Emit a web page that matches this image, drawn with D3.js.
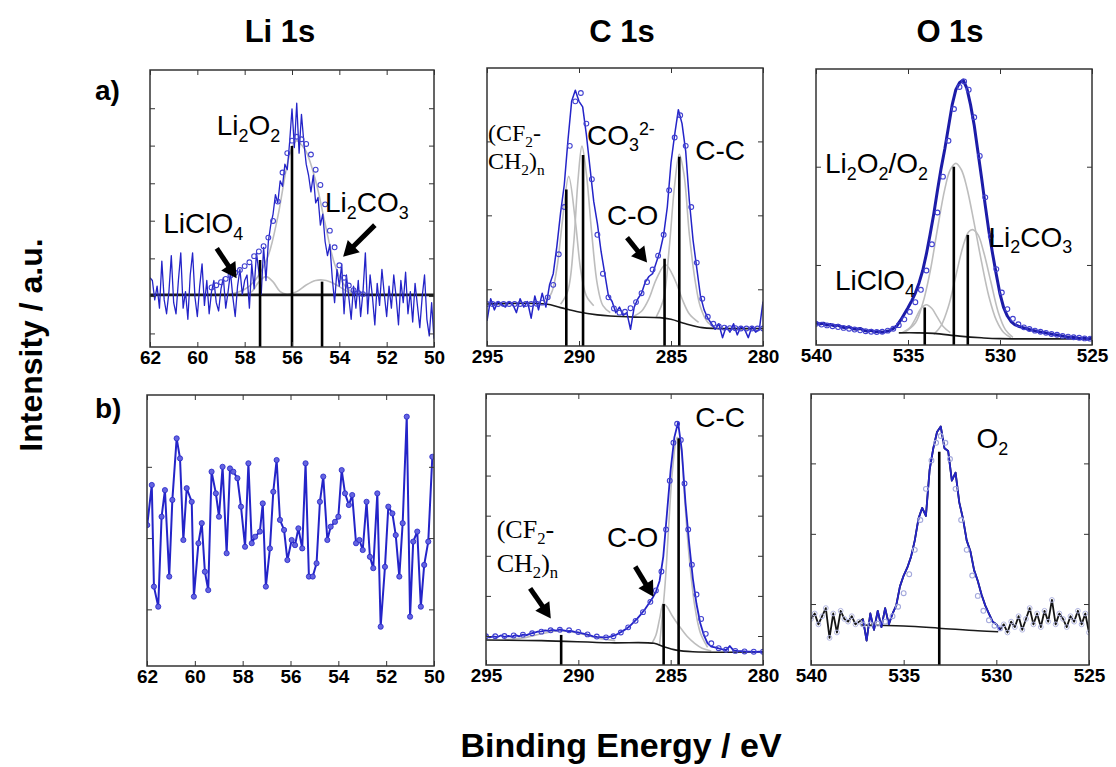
<!DOCTYPE html>
<html>
<head>
<meta charset="utf-8">
<script src="https://cdn.jsdelivr.net/npm/d3@7"></script>
<style>
  body { margin: 0; background: #fff; }
  svg { display: block; }
</style>
</head>
<body>
<div id="chart"></div>
<script>
// column titles, row labels and axis titles
const columnTitles = ['Li 1s', 'C 1s', 'O 1s'];
const rowLabels = ['a)', 'b)'];
const yAxisTitle = 'Intensity / a.u.';
const xAxisTitle = 'Binding Energy / eV';

// binding energy tick labels (eV)
const liTicks = [62, 60, 58, 56, 54, 52, 50];
const cTicks = [295, 290, 285, 280];
const oTicks = [540, 535, 530, 525];

// intensity ticks (arbitrary units, 0 = bottom of frame, 100 = top)
const liAYTicks = [4.9, 18.4, 32.0, 45.6, 59.1, 72.7, 86.2];
const cAYTicks = [20.4, 47.0, 73.6];
const oAYTicks = [29.0, 64.6];
const liBYTicks = [20.9, 47.2, 73.5];
const cBYTicks = [10.7, 25.5, 40.3, 55.1, 69.9, 84.7];
const oBYTicks = [22.5, 48.4, 74.4];

// ---------- a) Li 1s ----------
// raw counts, 62.0 -> 50.0 eV every 0.1 eV
const liARaw = [25,24,17,22,14,31,17,12,20,33, 16,12,24,34,14,20,10,26,34,18,
  11,22,30,15,24,12,20,24,16,13, 21,25,14,20,27,18,11,22,28,19,
  24,26,14,30,21,34,27,19,36,24, 38,44,48,55,52,60,58,66,64,74,
  86,72,88,70,84,74,66,62,56,62, 52,54,44,48,38,33,37,25,16,28,
  22,30,12,26,18,10,22,14,24,11, 20,34,12,26,18,8,23,15,28,19,
  11,22,14,26,18,8,24,16,27,12, 20,9,23,15,7,18,26,10,4,16, 3];
const liAFit = [[59.4,21.5],[59.2,22.3],[59.0,23.4],[58.8,24.6],[58.6,25.8],[58.4,26.8],[58.2,27.8],
  [58.0,29.2],[57.8,30.6],[57.6,32.8],[57.4,34.5],[57.2,36.4],[57.0,39.5],[56.8,45.5],[56.6,52.5],
  [56.4,63],[56.2,70],[56.0,74.5],[55.8,75.9],[55.6,75],[55.4,73.3],[55.2,69.5],[55.0,64],[54.8,58.5],
  [54.6,51.5],[54.4,42],[54.2,36],[54.0,29.5],[53.8,25],[53.6,22.2],[53.4,20.5],[53.2,19.5],[53.0,19.1]];
const liALi2O2 = [[58.6,19],[58.2,20],[57.8,22],[57.4,26],[57.0,33],[56.6,47],[56.2,66],[56.0,72],[55.8,74.5],
  [55.6,73],[55.4,70.5],[55.0,60],[54.6,44.5],[54.2,30],[53.8,22.5],[53.4,19.5],[53.0,18.9]];
const liALiClO4 = [[58.0,18.9],[57.7,20],[57.4,23.5],[57.1,25.4],[56.8,23.5],[56.5,20],[56.2,18.9]];
const liALi2CO3 = [[56.2,18.9],[55.8,20],[55.4,22.4],[55.0,24],[54.7,24.2],[54.4,23.6],[54.0,21.8],[53.6,19.8],[53.2,18.9]];
const liABaseline = [[62,18.8],[50,18.8]];
const liAPeaks = [[57.35,31.4],[56.0,72.6],[54.73,23.6]];

// ---------- a) C 1s ----------
// raw counts, 295.0 -> 280.0 eV every 0.2 eV
const cARaw = [9,17,13,16,15,14,16,15,12,17, 14,16,10,18,13,19,14,22,26,36,
  48,58,74,88,92,88,86,76,64,52, 44,34,26,18,16,12,14,11,12,6,
  14,17,19,23,25,26,30,34,40,50, 66,76,85,80,70,52,38,28,18,13,
  10,8,6,8,3,7,5,8,4,7, 6,3,7,5,6,16];
const cAFit = [[295.0,15.1],[294.7,15.1],[294.4,15.1],[294.1,15.1],[293.8,15.1],[293.5,15.1],[293.2,15.1],
  [292.9,15.1],[292.6,15.1],[292.3,15.2],[292.0,15.6],[291.7,17.5],[291.4,22],[291.1,33],[290.8,50],
  [290.5,72],[290.2,88],[289.9,91],[289.6,80],[289.3,60],[289.0,40],[288.7,26],[288.4,17.5],[288.1,13.5],
  [287.8,12.0],[287.5,12.3],[287.2,13.6],[286.9,15.8],[286.6,19],[286.3,23],[286.0,27.5],[285.7,32.5],
  [285.4,40],[285.1,56],[284.8,75],[284.5,83],[284.2,72],[283.9,50],[283.6,30],[283.3,17],[283.0,10.5],
  [282.7,8],[282.4,7],[282.1,6.6],[281.8,6.4],[281.5,6.4],[281.2,6.3],[280.9,6.3],[280.6,6.3],[280.3,6.3],[280.0,6.3]];
const cACF2 = [[291.9,15.3],[291.5,19],[291.2,28],[290.9,45],[290.56,61],[290.2,45],[289.9,27],[289.6,18],[289.2,14.5]];
const cACO3 = [[291.0,15],[290.6,20],[290.3,36],[290.05,60],[289.84,71.9],[289.6,62],[289.3,40],[289.0,22],[288.7,14.5],[288.3,12]];
const cACO = [[287.0,10.8],[286.6,12.5],[286.2,17],[285.8,24],[285.3,29.2],[284.8,24],[284.4,17],[284.0,11.5],[283.5,8.5]];
const cACC = [[285.8,10.5],[285.4,17],[285.1,35],[284.8,58],[284.55,69],[284.3,62],[284.0,40],[283.7,24],[283.4,14],[283.0,8.5],[282.6,6.8]];
const cABaseline = [[295,15.1],[291.8,15.1],[291.0,13.8],[290.0,12.2],[289.0,11.2],[288.3,10.8],[287.0,10.4],
  [285.6,10.2],[285.0,9.6],[284.2,8.0],[283.3,6.6],[282.6,6.3],[280,6.3]];
const cAPeaks = [[290.69,56.3],[289.78,68.7],[285.35,31.4],[284.55,68.1]];

// ---------- a) O 1s ----------
// raw counts, 540.0 -> 525.0 eV every 0.2 eV
const oARaw = [8.0,7.6,7.9,7.2,7.4,6.9,7.2,6.5,6.2,6.6, 5.9,5.7,6.0,5.3,5.0,5.3,4.7,4.9,4.6,4.9,
  5.2,6.0,7.0,9.0,11.2,13.5,16.0,18.8,22.5,27.0, 33.0,40.0,47.5,56.0,64.0,71.0,79.0,87.0,92.5,95.0,
  96.0,93.0,87.0,79.5,70.0,60.5,50.5,41.0,33.0,25.5, 18.5,13.5,10.5,8.5,7.4,6.8,6.4,6.0,5.6,5.3,
  5.0,4.7,4.5,4.2,4.0,3.7,3.5,3.3,3.0,2.8, 2.7,2.5,2.3,2.5,2.1,2.6];
const oAFit = [[540,7.7],[539.7,7.4],[539.4,7.1],[539.1,6.8],[538.8,6.5],[538.5,6.2],[538.2,5.9],[537.9,5.6],
  [537.6,5.3],[537.3,5.0],[537.0,4.8],[536.7,4.7],[536.4,4.8],[536.1,5.2],[535.8,5.9],[535.5,7.2],[535.2,9.3],
  [534.9,12.0],[534.6,15.5],[534.3,20.0],[534.0,27.0],[533.7,36.5],[533.4,48.0],[533.1,61.0],[532.8,74.0],
  [532.5,85.5],[532.2,93.5],[531.95,95.5],[531.7,92.5],[531.4,82.5],[531.1,68.5],[530.8,53.5],[530.5,39.5],
  [530.2,27.5],[529.9,19.0],[529.6,13.0],[529.3,9.5],[529.0,7.5],[528.7,6.4],[528.4,5.8],[528.1,5.2],
  [527.8,4.8],[527.5,4.4],[527.2,4.0],[526.9,3.7],[526.6,3.3],[526.3,3.0],[526.0,2.8],[525.7,2.6],[525.4,2.4],[525.1,2.3]];
const oALiClO4 = [[535.3,4.5],[534.9,6.2],[534.6,9.5],[534.3,13.2],[534.0,14.6],[533.7,13.2],[533.4,10.0],[533.1,6.8],[532.7,4.5]];
const oALi2O2 = [[535.2,4.6],[534.6,8],[534.2,15],[533.8,26.5],[533.4,42],[533.0,56.5],[532.7,63.5],[532.4,65.8],
  [532.1,63.5],[531.8,57],[531.4,44],[531.0,30],[530.6,17.5],[530.2,9],[529.8,4.5],[529.4,2.6]];
const oALi2CO3 = [[533.6,3.8],[533.2,7],[532.8,14],[532.4,25],[532.0,36],[531.7,41],[531.5,41.8],[531.2,40],
  [530.9,34],[530.5,23],[530.1,12],[529.7,5.5],[529.3,2.8]];
const oABaseline = [[535.5,4.4],[534.5,4.4],[533.6,4.2],[532.2,3.2],[531.0,2.6],[530.0,2.3],[525,2.3]];
const oAPeaks = [[534.09,13.6],[532.51,64.6],[531.75,39.9]];

// ---------- b) Li 1s ----------
const liBEnergy = [61.99,61.80,61.71,61.53,61.39,61.25,61.07,60.94,60.76,60.62,
  60.48,60.34,60.13,60.04,59.85,59.71,59.58,59.44,59.30,59.12,
  58.99,58.84,58.67,58.53,58.39,58.22,58.07,57.90,57.76,57.62,
  57.48,57.28,57.16,57.03,56.86,56.72,56.58,56.44,56.27,56.13,
  55.95,55.81,55.67,55.51,55.37,55.23,55.07,54.91,54.77,54.63,
  54.46,54.32,54.14,54.00,53.86,53.72,53.56,53.42,53.26,53.12,
  52.98,52.82,52.68,52.54,52.37,52.23,52.05,51.91,51.74,51.60,
  51.45,51.31,51.14,51.00,50.87,50.70,50.55,50.41,50.24,50.07];
const liBIntensity = [52.0,66.8,29.3,21.9,55.1,64.9,33.0,61.3,84.0,76.6,
  46.5,65.6,60.6,25.6,45.3,52.7,34.8,28.0,71.7,63.7,
  55.1,73.5,41.6,72.9,71.7,69.3,58.8,44.0,74.8,45.3,
  47.7,49.6,60.0,29.3,43.4,64.3,76.0,53.9,50.2,39.1,
  46.5,44.6,50.8,43.4,74.8,33.0,33.0,37.9,60.6,69.9,
  46.5,51.4,53.2,55.1,72.3,63.7,59.4,63.1,45.3,46.5,
  42.8,60.6,40.3,36.1,63.7,14.5,36.6,58.8,56.3,48.3,
  33.0,52.7,92.0,18.2,45.9,49.6,21.9,37.3,45.9,77.2];

// ---------- b) C 1s ----------
// raw counts, 295.0 -> 280.0 eV every 0.2 eV
const cBRaw = [10.8,10.2,10.6,10.3,10.9,10.4,10.7,10.5,11.0,10.6, 11.2,11.0,11.6,11.9,12.3,12.4,12.8,12.6,13.0,12.7,
  13.1,12.8,12.5,12.6,12.2,12.0,11.7,11.4,11.0,10.6, 10.4,10.3,10.2,10.3,10.6,11.0,11.7,12.5,13.4,14.4,
  15.8,17.2,18.8,20.5,22.5,24.5,27,31,40,56, 72,84,89.5,79.5,60,45,32,22.5,15.5,11,
  8,6.8,6.5,6.1,5.8,5.5,7.0,5.4,5.2,5.1, 5.0,4.9,4.9,4.8,4.9,4.8];
const cBFit = [[295,10.6],[294.5,10.6],[294,10.7],[293.5,10.9],[293,11.2],[292.5,11.7],[292,12.3],[291.5,12.8],
  [291,13.0],[290.5,12.8],[290,12.2],[289.5,11.3],[289,10.5],[288.5,10.2],[288.1,10.6],[287.7,12.0],[287.3,13.9],
  [286.9,16.3],[286.5,19.5],[286.1,23.3],[285.8,27.5],[285.5,34.5],[285.25,50],[285.05,68],[284.85,82],
  [284.65,89],[284.45,83],[284.25,67],[284.05,50],[283.85,37],[283.6,26],[283.35,17],[283.1,11.5],
  [282.8,8.0],[282.4,6.2],[282.0,5.6],[281.5,5.2],[281.0,5.0],[280.5,4.9],[280.0,4.9]];
const cBCF2 = [[294,9.3],[293,10],[292,11.5],[291,12.7],[290,11.8],[289,10],[288,9.0]];
const cBCO = [[286.0,8.2],[285.8,11],[285.6,17],[285.4,22.6],[285.2,21.5],[284.9,18],[284.5,14],[284.1,10.5],
  [283.7,8],[283.3,6.2],[282.8,5.2]];
const cBCC = [[285.6,7.5],[285.3,30],[285.1,52],[284.9,72],[284.65,84],[284.45,80],[284.25,62],[284.0,40],
  [283.7,22],[283.4,12],[283.0,6.5]];
const cBBaseline = [[295,9.2],[292,9.0],[288.3,8.2],[285.9,8.0],[285.4,6.8],[284.7,5.5],[283.8,4.9],[280,4.9]];
const cBPeaks = [[290.93,11.1],[285.38,22.5],[284.57,83.6]];

// ---------- b) O 1s ----------
// raw counts, 540.0 -> 525.0 eV every 0.2 eV
const oBRaw = [17,19,15,18,21,10,19,12,20,17, 16,18,15,16,17,9,19,13,20,14,
  21,15,19,22,29,33,36,40,46,54, 58,55,72,80,86,88,80,79,68,71,
  60,54,46,42,35,31,26,22,19,16, 15,13,15,12,16,14,18,13,17,21,
  15,19,14,20,16,24,15,19,17,14, 18,16,20,15,19,12];
const oBFit = [[537.2,15.0],[536.8,15.0],[536.4,15.3],[536.0,16.0],[535.6,18.0],[535.3,21.5],[535.0,26.5],
  [534.7,33.5],[534.4,42.5],[534.1,53.5],[533.8,65],[533.5,75.5],[533.25,82],[533.0,84.5],[532.75,82],
  [532.5,76],[532.2,65],[531.9,53.5],[531.6,42.5],[531.3,33],[531.0,25.5],[530.7,20],[530.4,16.5],[530.1,14.5],[529.8,13.5]];
const oBBaseline = [[537.3,14.8],[535.0,14.4],[533.1,13.6],[531.0,12.6],[529.9,12.3]];
const oBPeaks = [[533.08,78.7]];

// ---------------------------------------------------------------
const width = 1116, height = 767;
const SANS = '"Liberation Sans", Arial, sans-serif';
const SERIF = '"Liberation Serif", "Times New Roman", serif';
const BLUE = '#2424c8';

const svg = d3.select('#chart').append('svg')
  .attr('width', width).attr('height', height)
  .style('background', '#fff');

// spectra sampled on a regular energy grid
const grid = (start, step, values) => values.map((v, i) => [start - i * step, v]);

const panels = [
  { id: 'la', left: 150, right: 434, top: 70, bottom: 347, xDomain: [62, 50], xTicks: liTicks, yTicks: liAYTicks,
    raw: grid(62, 0.1, liARaw), rawWidth: 1.3, fit: liAFit, comps: [liALi2O2, liALiClO4, liALi2CO3],
    baseline: liABaseline, baseWidth: 2.6, peaks: liAPeaks,
    labels: [
      { t: 'Li_{2}O_{2}', e: 59.18, v: 76.5 },
      { t: 'LiClO_{4}', e: 61.44, v: 41.0 },
      { t: 'Li_{2}CO_{3}', e: 54.61, v: 48.8 }
    ],
    arrows: [[59.18, 35.6, 58.34, 24.8], [52.5, 44.0, 53.84, 32.6]] },
  { id: 'ca', left: 487, right: 763, top: 68, bottom: 346, xDomain: [295, 280], xTicks: cTicks, yTicks: cAYTicks,
    raw: grid(295, 0.2, cARaw), rawWidth: 1.5, fit: cAFit, comps: [cACF2, cACO3, cACO, cACC],
    baseline: cABaseline, baseWidth: 1.6, peaks: cAPeaks,
    labels: [
      { t: '(CF_{2}-', e: 294.95, v: 73.7, serif: true, size: 24 },
      { t: 'CH_{2})_{n}', e: 294.95, v: 63.6, serif: true, size: 24 },
      { t: 'CO_{3}^{2-}', e: 289.57, v: 72.4 },
      { t: 'C-C', e: 283.68, v: 67.0 },
      { t: 'C-O', e: 288.48, v: 43.7 }
    ],
    arrows: [[287.39, 39.0, 286.3, 30.0]] },
  { id: 'oa', left: 816, right: 1092, top: 69, bottom: 345, xDomain: [540, 525], xTicks: oTicks, yTicks: oAYTicks,
    raw: grid(540, 0.2, oARaw), rawWidth: 3, rawColor: '#1c1ca8', fit: oAFit, comps: [oALiClO4, oALi2O2, oALi2CO3],
    baseline: oABaseline, baseWidth: 1.6, peaks: oAPeaks,
    labels: [
      { t: 'Li_{2}O_{2}/O_{2}', e: 539.51, v: 62.2 },
      { t: 'Li_{2}CO_{3}', e: 530.63, v: 35.6 },
      { t: 'LiClO_{4}', e: 538.97, v: 19.9 }
    ],
    arrows: [] },
  { id: 'lb', left: 147, right: 434, top: 395, bottom: 666, xDomain: [62, 50], xTicks: liTicks, yTicks: liBYTicks,
    raw: liBEnergy.map((e, i) => [e, liBIntensity[i]]), rawWidth: 2, markers: true,
    comps: [], peaks: [], labels: [], arrows: [] },
  { id: 'cb', left: 486, right: 763, top: 394, bottom: 665, xDomain: [295, 280], xTicks: cTicks, yTicks: cBYTicks,
    raw: grid(295, 0.2, cBRaw), rawWidth: 1.8, fit: cBFit, comps: [cBCF2, cBCO, cBCC],
    baseline: cBBaseline, baseWidth: 1.6, peaks: cBPeaks,
    labels: [
      { t: 'C-C', e: 283.67, v: 87.9 },
      { t: 'C-O', e: 288.45, v: 43.7 },
      { t: '(CF_{2}-', e: 294.42, v: 46.8, serif: true, size: 26 },
      { t: 'CH_{2})_{n}', e: 294.42, v: 34.4, serif: true, size: 26 }
    ],
    arrows: [[292.61, 28.3, 291.49, 17.2], [286.92, 36.3, 285.93, 25.2]] },
  { id: 'ob', left: 811, right: 1089, top: 394, bottom: 665, xDomain: [540, 525], xTicks: oTicks, yTicks: oBYTicks,
    raw: grid(540, 0.2, oBRaw), rawWidth: 1.8, rawColor: '#151515', blueRange: [529.7, 537.3],
    fit: oBFit, fitColor: '#a3a8dc', faintRaw: true, comps: [],
    baseline: oBBaseline, baseWidth: 1.5, peaks: oBPeaks,
    labels: [{ t: 'O_{2}', e: 531.07, v: 80.0 }],
    arrows: [] }
];

// text with _{sub} and ^{sup} parts
function richText(g, str, x, y, size, family) {
  const t = g.append('text').attr('x', x).attr('y', y)
    .style('font-family', family).style('font-size', size + 'px').attr('fill', '#000');
  let shift = 0;
  str.split(/(_\{[^}]*\}|\^\{[^}]*\})/).filter(s => s).forEach(s => {
    let txt = s, fs = size, target = 0;
    if (s.startsWith('_{')) { txt = s.slice(2, -1); fs = size * 0.64; target = size * 0.24; }
    else if (s.startsWith('^{')) { txt = s.slice(2, -1); fs = size * 0.64; target = -size * 0.36; }
    t.append('tspan').attr('dy', target - shift).style('font-size', fs + 'px').text(txt);
    shift = target;
  });
}

function drawArrow(g, x1, y1, x2, y2) {
  const dx = x2 - x1, dy = y2 - y1, len = Math.hypot(dx, dy);
  const ux = dx / len, uy = dy / len;
  const hl = 15, hw = 8.5;
  const bx = x2 - ux * hl, by = y2 - uy * hl;
  g.append('line').attr('x1', x1).attr('y1', y1).attr('x2', bx + ux * 2).attr('y2', by + uy * 2)
    .attr('stroke', '#000').attr('stroke-width', 5);
  g.append('path')
    .attr('d', `M${x2},${y2}L${bx - uy * hw},${by + ux * hw}L${bx + uy * hw},${by - ux * hw}Z`)
    .attr('fill', '#000');
}

function drawPanel(p) {
  const x = d3.scaleLinear().domain(p.xDomain).range([p.left, p.right]);
  const y = d3.scaleLinear().domain([0, 100]).range([p.bottom, p.top]);
  const g = svg.append('g');

  svg.append('clipPath').attr('id', 'clip-' + p.id).append('rect')
    .attr('x', p.left).attr('y', p.top).attr('width', p.right - p.left).attr('height', p.bottom - p.top);
  const plot = g.append('g').attr('clip-path', `url(#clip-${p.id})`);

  const smooth = d3.line().x(d => x(d[0])).y(d => y(d[1])).curve(d3.curveCatmullRom.alpha(0.5));
  const straight = d3.line().x(d => x(d[0])).y(d => y(d[1]));

  // fitted components
  p.comps.forEach(c => {
    plot.append('path').attr('d', smooth(c)).attr('fill', 'none')
      .attr('stroke', '#bdbdbd').attr('stroke-width', 1.6);
  });

  // background
  if (p.baseline) {
    plot.append('path').attr('d', smooth(p.baseline)).attr('fill', 'none')
      .attr('stroke', '#1a1a1a').attr('stroke-width', p.baseWidth);
  }

  // raw spectrum
  plot.append('path').attr('d', straight(p.raw)).attr('fill', 'none')
    .attr('stroke', p.rawColor || BLUE).attr('stroke-width', p.rawWidth).attr('stroke-linejoin', 'round');
  if (p.blueRange) {
    const seg = p.raw.filter(d => d[0] >= p.blueRange[0] && d[0] <= p.blueRange[1]);
    plot.append('path').attr('d', straight(seg)).attr('fill', 'none')
      .attr('stroke', BLUE).attr('stroke-width', p.rawWidth).attr('stroke-linejoin', 'round');
  }
  if (p.faintRaw) {
    plot.append('g').selectAll('circle')
      .data(p.raw.filter(d => d[0] < p.blueRange[0] || d[0] > p.blueRange[1]))
      .join('circle').attr('cx', d => x(d[0])).attr('cy', d => y(d[1])).attr('r', 2.4)
      .attr('fill', 'none').attr('stroke', '#b3b7e2').attr('stroke-width', 1);
  }
  if (p.markers) {
    plot.append('g').selectAll('circle').data(p.raw).join('circle')
      .attr('cx', d => x(d[0])).attr('cy', d => y(d[1])).attr('r', 2.6)
      .attr('fill', '#6464e0').attr('stroke', BLUE).attr('stroke-width', 0.8);
  }

  // fit envelope as open circles
  if (p.fit) {
    plot.append('g').selectAll('circle').data(p.fit).join('circle')
      .attr('cx', d => x(d[0])).attr('cy', d => y(d[1])).attr('r', 2.4)
      .attr('fill', 'none').attr('stroke', p.fitColor || '#4040d0').attr('stroke-width', 1.1);
  }

  // peak positions
  g.append('g').selectAll('line').data(p.peaks).join('line')
    .attr('x1', d => x(d[0])).attr('x2', d => x(d[0]))
    .attr('y1', p.bottom).attr('y2', d => y(d[1]))
    .attr('stroke', '#000').attr('stroke-width', 2.6);

  // frame and inward ticks
  g.append('rect').attr('x', p.left).attr('y', p.top)
    .attr('width', p.right - p.left).attr('height', p.bottom - p.top)
    .attr('fill', 'none').attr('stroke', '#333').attr('stroke-width', 1.5);

  const styleAxis = a => {
    a.select('.domain').remove();
    a.selectAll('.tick line').attr('stroke', '#333');
  };
  g.append('g').attr('transform', `translate(0,${p.bottom})`)
    .call(d3.axisBottom(x).tickValues(p.xTicks).tickSizeInner(-5).tickSizeOuter(0).tickPadding(3).tickFormat(d3.format('d')))
    .call(styleAxis)
    .call(a => a.selectAll('text').style('font-family', SANS).style('font-size', '19px')
      .style('font-weight', 'bold').attr('fill', '#000'));
  g.append('g').attr('transform', `translate(0,${p.top})`)
    .call(d3.axisTop(x).tickValues(p.xTicks).tickSizeInner(-5).tickSizeOuter(0).tickFormat(() => ''))
    .call(styleAxis);
  g.append('g').attr('transform', `translate(${p.left},0)`)
    .call(d3.axisLeft(y).tickValues(p.yTicks).tickSizeInner(-5).tickSizeOuter(0).tickFormat(() => ''))
    .call(styleAxis);
  g.append('g').attr('transform', `translate(${p.right},0)`)
    .call(d3.axisRight(y).tickValues(p.yTicks).tickSizeInner(-5).tickSizeOuter(0).tickFormat(() => ''))
    .call(styleAxis);

  // annotations
  p.labels.forEach(l => richText(g, l.t, x(l.e), y(l.v), l.size || 28, l.serif ? SERIF : SANS));
  p.arrows.forEach(a => drawArrow(g, x(a[0]), y(a[1]), x(a[2]), y(a[3])));
}

panels.forEach(drawPanel);

// column titles
const titleX = [280, 622, 950];
svg.selectAll('.col-title').data(columnTitles).join('text')
  .attr('class', 'col-title')
  .attr('x', (d, i) => titleX[i]).attr('y', 42)
  .attr('text-anchor', 'middle')
  .style('font-family', SANS).style('font-size', '31px').style('font-weight', 'bold')
  .text(d => d);

// row labels
const rowY = [100, 418];
svg.selectAll('.row-label').data(rowLabels).join('text')
  .attr('class', 'row-label')
  .attr('x', 95).attr('y', (d, i) => rowY[i])
  .style('font-family', SANS).style('font-size', '28px').style('font-weight', 'bold')
  .text(d => d);

// axis titles
svg.append('text')
  .attr('transform', 'translate(42,345) rotate(-90)')
  .attr('text-anchor', 'middle')
  .style('font-family', SANS).style('font-size', '32px').style('font-weight', 'bold')
  .text(yAxisTitle);

svg.append('text')
  .attr('x', 621).attr('y', 757)
  .attr('text-anchor', 'middle')
  .style('font-family', SANS).style('font-size', '34px').style('font-weight', 'bold')
  .text(xAxisTitle);
</script>
</body>
</html>
